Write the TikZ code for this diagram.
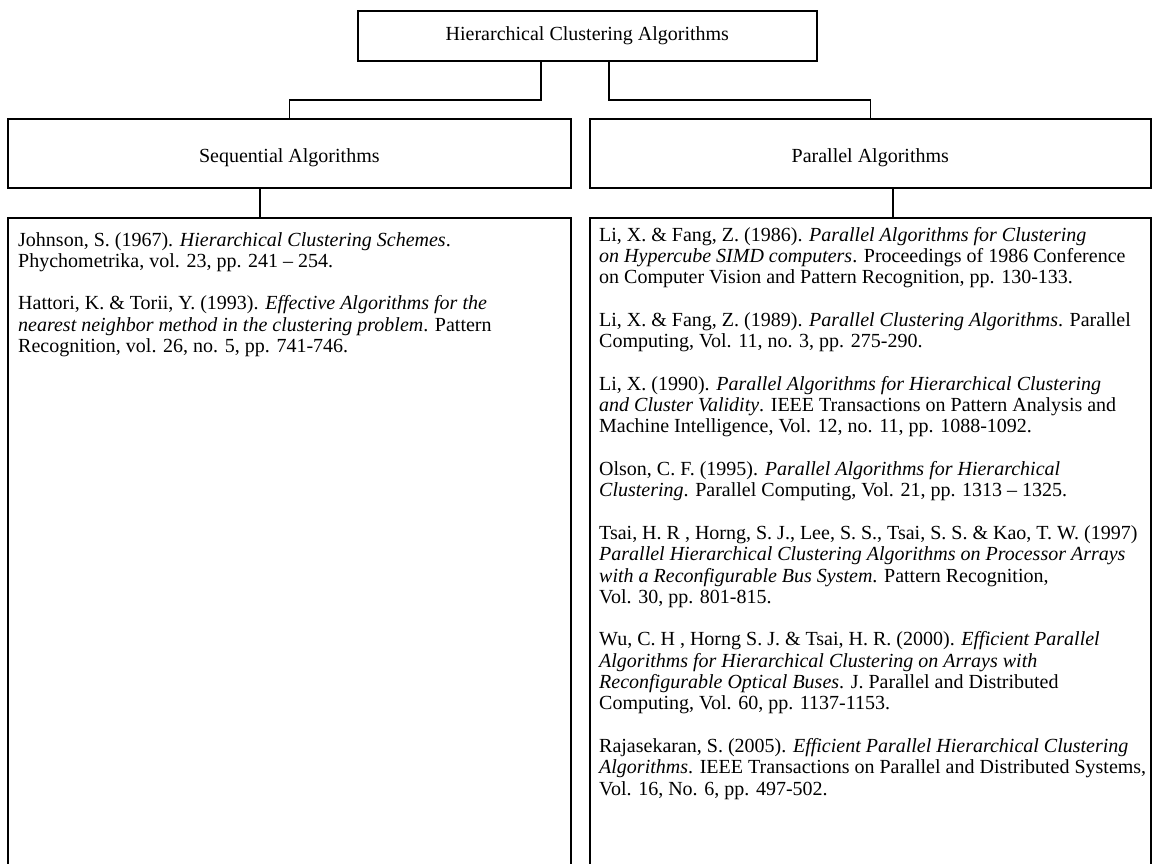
\documentclass[tikz,border=0pt]{standalone}
\usepackage{fontspec}
\setmainfont{Liberation Serif}
\begin{document}
\begin{tikzpicture}[x=1pt,y=-1pt,
  box/.style={draw, line width=1.6pt, rectangle, inner sep=0pt, anchor=north west},
  wire/.style={line width=1.6pt},
  body/.style={font=\fontsize{20}{21.3}\selectfont},
  refs/.style={body, anchor=north west, align=left, inner sep=0pt}
]
\useasboundingbox (0,0) rectangle (1152,863);
\fill[white] (0,0) rectangle (1152,863);
\clip (0,0) rectangle (1152,863);

% boxes
\node[box, body, minimum width=459pt, minimum height=50pt] (top) at (357,10) {Hierarchical Clustering Algorithms};
\node[box, minimum width=563pt, minimum height=69pt] (seq) at (7,118) {};
\node[box, minimum width=561pt, minimum height=69pt] (par) at (589,118) {};
\node[body] (seqlbl) at ([yshift=-4pt]seq.center) {Sequential Algorithms};
\node[body] (parlbl) at ([yshift=-4pt]par.center) {Parallel Algorithms};
\node[box, minimum width=563pt, minimum height=700pt] (seqbox) at (7,217) {};
\node[box, minimum width=561pt, minimum height=700pt] (parbox) at (589,217) {};

% junction points of the connectors
\coordinate (jl) at (541,0);
\coordinate (jr) at (609,0);
\coordinate (dl) at (260,0);
\coordinate (dr) at (893,0);

\draw[wire] (top.south -| jl) -- ++(0,38.5) -| (seq.north);
\draw[wire] (top.south -| jr) -- ++(0,38.5) -| (par.north);
\draw[wire] (seq.south -| dl) -- (seqbox.north -| dl);
\draw[wire] (par.south -| dr) -- (parbox.north -| dr);

% reference lists
\node[refs] (seqrefs) at (18,232) {%
Johnson, S. (1967). \textit{Hierarchical Clustering Schemes}.\\
Phychometrika, vol. 23, pp. 241 -- 254.\\[21.3pt]
Hattori, K. \& Torii, Y. (1993). \textit{Effective Algorithms for the}\\
\textit{nearest neighbor method in the clustering problem}. Pattern\\
Recognition\textit{,} vol. 26, no. 5, pp. 741-746.};

\node[refs] (parrefs) at (599,227) {%
Li, X. \& Fang, Z. (1986). \textit{Parallel Algorithms for Clustering}\\
\textit{on Hypercube SIMD computers}. Proceedings of 1986 Conference\\
on Computer Vision and Pattern Recognition, pp. 130-133.\\[21.3pt]
Li, X. \& Fang, Z. (1989). \textit{Parallel Clustering Algorithms}. Parallel\\
Computing, Vol. 11, no. 3, pp. 275-290.\\[21.3pt]
Li, X. (1990). \textit{Parallel Algorithms for Hierarchical Clustering}\\
\textit{and Cluster Validity}. IEEE Transactions on Pattern Analysis and\\
Machine Intelligence, Vol. 12, no. 11, pp. 1088-1092.\\[21.3pt]
Olson, C. F. (1995). \textit{Parallel Algorithms for Hierarchical}\\
\textit{Clustering}. Parallel Computing, Vol. 21, pp. 1313 -- 1325.\\[21.3pt]
Tsai, H. R , Horng, S. J., Lee, S. S., Tsai, S. S. \& Kao, T. W. (1997)\\
\textit{Parallel Hierarchical Clustering Algorithms on Processor Arrays}\\
\textit{with a Reconfigurable Bus System}. Pattern Recognition,\\
Vol. 30, pp. 801-815.\\[21.3pt]
Wu, C. H , Horng S. J. \& Tsai, H. R. (2000). \textit{Efficient Parallel}\\
\textit{Algorithms for Hierarchical Clustering on Arrays with}\\
\textit{Reconfigurable Optical Buses}. J. Parallel and Distributed\\
Computing, Vol. 60, pp. 1137-1153.\\[21.3pt]
Rajasekaran, S. (2005). \textit{Efficient Parallel Hierarchical Clustering}\\
\textit{Algorithms}. IEEE Transactions on Parallel and Distributed Systems,\\
Vol. 16, No. 6, pp. 497-502.};
\end{tikzpicture}
\end{document}
